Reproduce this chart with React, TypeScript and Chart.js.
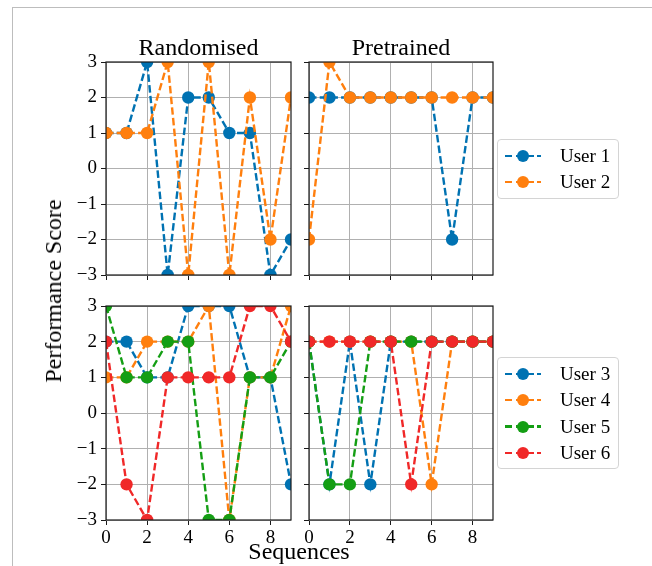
import React, { useEffect, useRef } from "react";
import { Chart, registerables } from "chart.js";

Chart.register(...registerables);

// ---- data ----
const sequences = [0, 1, 2, 3, 4, 5, 6, 7, 8, 9];
const xTickValues = [0, 2, 4, 6, 8];
const yTickValues = [-3, -2, -1, 0, 1, 2, 3];
const panelTitles = ["Randomised", "Pretrained"];
const topUsers = ["User 1", "User 2"];
const bottomUsers = ["User 3", "User 4", "User 5", "User 6"];
const topColors = ["#0072b2", "#ff7f0e"];
const bottomColors = ["#0072b2", "#ff7f0e", "#149e14", "#f02828"];

const randUser1 = [1, 1, 3, -3, 2, 2, 1, 1, -3, -2];
const randUser2 = [1, 1, 1, 3, -3, 3, -3, 2, -2, 2];
const preUser1 = [2, 2, 2, 2, 2, 2, 2, -2, 2, 2];
const preUser2 = [-2, 3, 2, 2, 2, 2, 2, 2, 2, 2];

const randUser3 = [2, 2, 1, 1, 3, 3, 3, 1, 1, -2];
const randUser4 = [1, 1, 2, 2, 2, 3, -3, 1, 1, 3];
const randUser5 = [3, 1, 1, 2, 2, -3, -3, 1, 1, 2];
const randUser6 = [2, -2, -3, 1, 1, 1, 1, 3, 3, 2];
const preUser3 = [2, -2, 2, -2, 2, 2, 2, 2, 2, 2];
const preUser4 = [2, 2, 2, 2, 2, 2, -2, 2, 2, 2];
const preUser5 = [2, -2, -2, 2, 2, 2, 2, 2, 2, 2];
const preUser6 = [2, 2, 2, 2, 2, -2, 2, 2, 2, 2];

const xLabel = "Sequences";
const yLabel = "Performance Score";

// ---- style ----
const FONT = "'Liberation Serif', 'Times New Roman', serif";
const TICK_SIZE = 19;
const TITLE_SIZE = 24;
const Y_AXIS_W = 56;
const X_AXIS_H = 40;
const PAD_T = 10;
const PAD_R = 10;
const DASH = [7.5, 3.2];

const minus = (v: number) => (v < 0 ? "\u2212" + Math.abs(v) : String(v));

const framePlugin = {
  id: "frame",
  afterDraw(chart: any) {
    const { ctx, chartArea: a } = chart;
    ctx.save();
    ctx.strokeStyle = "#1a1a1a";
    ctx.lineWidth = 1.2;
    ctx.strokeRect(a.left, a.top, a.right - a.left, a.bottom - a.top);
    ctx.restore();
  },
};

function makeDatasets(series: number[][], labels: string[], colors: string[]) {
  return series.map((vals, i) => ({
    label: labels[i],
    data: sequences.map((s, j) => ({ x: s, y: vals[j] })),
    borderColor: colors[i],
    backgroundColor: colors[i],
    pointBackgroundColor: colors[i],
    pointBorderColor: colors[i],
    pointBorderWidth: 0,
    pointRadius: 6.2,
    borderWidth: 2.4,
    borderDash: DASH,
    tension: 0,
    clip: 0,
    order: -i,
  }));
}

type PanelProps = {
  left: number;
  top: number;
  w: number;
  h: number;
  series: number[][];
  labels: string[];
  colors: string[];
  showX: boolean;
  showY: boolean;
};

function Panel({ left, top, w, h, series, labels, colors, showX, showY }: PanelProps) {
  const ref = useRef<HTMLCanvasElement | null>(null);
  const cw = Y_AXIS_W + w + PAD_R;
  const ch = PAD_T + h + X_AXIS_H;
  useEffect(() => {
    if (!ref.current) return;
    const gridCommon = {
      color: "#b0b0b0",
      lineWidth: 1,
      tickColor: "#1a1a1a",
      tickLength: 5,
      drawTicks: true,
    };
    const chart = new Chart(ref.current, {
      type: "line",
      data: { datasets: makeDatasets(series, labels, colors) as any },
      options: {
        animation: false,
        responsive: false,
        maintainAspectRatio: false,
        devicePixelRatio: 1,
        layout: { padding: { top: PAD_T, right: PAD_R, left: 0, bottom: 0 } },
        plugins: {
          legend: { display: false },
          tooltip: { enabled: false },
          title: { display: false },
        },
        scales: {
          x: {
            type: "linear",
            min: 0,
            max: 9,
            afterBuildTicks: (s: any) => {
              s.ticks = xTickValues.map((v) => ({ value: v }));
            },
            afterFit: (s: any) => {
              s.height = X_AXIS_H;
              s.paddingLeft = 0;
              s.paddingRight = 0;
              s.paddingTop = 0;
              s.paddingBottom = 0;
            },
            grid: gridCommon,
            border: { display: false },
            ticks: {
              display: showX,
              color: "#000",
              font: { family: FONT, size: TICK_SIZE },
              padding: 2,
              maxRotation: 0,
              autoSkip: false,
              callback: (v: any) => minus(Number(v)),
            },
          },
          y: {
            type: "linear",
            min: -3,
            max: 3,
            afterBuildTicks: (s: any) => {
              s.ticks = yTickValues.map((v) => ({ value: v }));
            },
            afterFit: (s: any) => {
              s.width = Y_AXIS_W;
              s.paddingLeft = 0;
              s.paddingRight = 0;
              s.paddingTop = 0;
              s.paddingBottom = 0;
            },
            grid: gridCommon,
            border: { display: false },
            ticks: {
              display: showY,
              color: "#000",
              font: { family: FONT, size: TICK_SIZE },
              padding: 4,
              autoSkip: false,
              callback: (v: any) => minus(Number(v)),
            },
          },
        },
      } as any,
      plugins: [framePlugin],
    });
    return () => chart.destroy();
  }, []);
  return (
    <canvas
      ref={ref}
      width={cw}
      height={ch}
      style={{
        position: "absolute",
        left: left - Y_AXIS_W,
        top: top - PAD_T,
        width: cw,
        height: ch,
      }}
    />
  );
}

function Legend({ top, height, labels, colors }: { top: number; height: number; labels: string[]; colors: string[] }) {
  return (
    <div
      style={{
        position: "absolute",
        left: 497,
        top,
        width: 122,
        height,
        boxSizing: "border-box",
        border: "1px solid #d4d4d4",
        borderRadius: 4,
        background: "rgba(255,255,255,0.85)",
      }}
    >
      {labels.map((lab, i) => {
        const cy = 16 + i * 26.3;
        return (
          <div key={lab}>
            <div
              style={{
                position: "absolute",
                left: 7,
                top: cy - 1.2,
                width: 36,
                height: 2.4,
                background: `repeating-linear-gradient(to right, ${colors[i]} 0 7.5px, transparent 7.5px 10.7px)`,
              }}
            />
            <div
              style={{
                position: "absolute",
                left: 19,
                top: cy - 6,
                width: 12,
                height: 12,
                borderRadius: 6,
                background: colors[i],
              }}
            />
            <div
              style={{
                position: "absolute",
                left: 62,
                top: cy - 12,
                height: 24,
                lineHeight: "24px",
                fontFamily: FONT,
                fontSize: TICK_SIZE,
                color: "#000",
                whiteSpace: "nowrap",
              }}
            >
              {lab}
            </div>
          </div>
        );
      })}
    </div>
  );
}

export default function App() {
  const textStyle: React.CSSProperties = {
    position: "absolute",
    fontFamily: FONT,
    fontSize: TITLE_SIZE,
    color: "#000",
    whiteSpace: "nowrap",
    lineHeight: "28px",
    height: 28,
  };
  return (
    <div
      style={{
        position: "absolute",
        left: 0,
        top: 0,
        width: 652,
        height: 566,
        overflow: "hidden",
        background: "#fff",
      }}
    >
      <div
        style={{
          position: "absolute",
          left: 12,
          top: 7,
          width: 700,
          height: 700,
          border: "1px solid #bdbdbd",
        }}
      />
      <Panel left={106} top={62} w={185} h={213} series={[randUser1, randUser2]} labels={topUsers} colors={topColors} showX={false} showY={true} />
      <Panel left={309} top={62} w={184} h={213} series={[preUser1, preUser2]} labels={topUsers} colors={topColors} showX={false} showY={false} />
      <Panel left={106} top={306} w={185} h={214} series={[randUser3, randUser4, randUser5, randUser6]} labels={bottomUsers} colors={bottomColors} showX={true} showY={true} />
      <Panel left={309} top={306} w={184} h={214} series={[preUser3, preUser4, preUser5, preUser6]} labels={bottomUsers} colors={bottomColors} showX={true} showY={false} />

      <div style={{ ...textStyle, left: 198.5, top: 33, transform: "translateX(-50%)" }}>{panelTitles[0]}</div>
      <div style={{ ...textStyle, left: 401, top: 33, transform: "translateX(-50%)" }}>{panelTitles[1]}</div>

      <div style={{ ...textStyle, left: 299, top: 537, transform: "translateX(-50%)" }}>{xLabel}</div>
      <div
        style={{
          ...textStyle,
          left: 53,
          top: 291,
          transform: "translate(-50%, -50%) rotate(-90deg)",
        }}
      >
        {yLabel}
      </div>

      <Legend top={139} height={60} labels={topUsers} colors={topColors} />
      <Legend top={357} height={112} labels={bottomUsers} colors={bottomColors} />
    </div>
  );
}
